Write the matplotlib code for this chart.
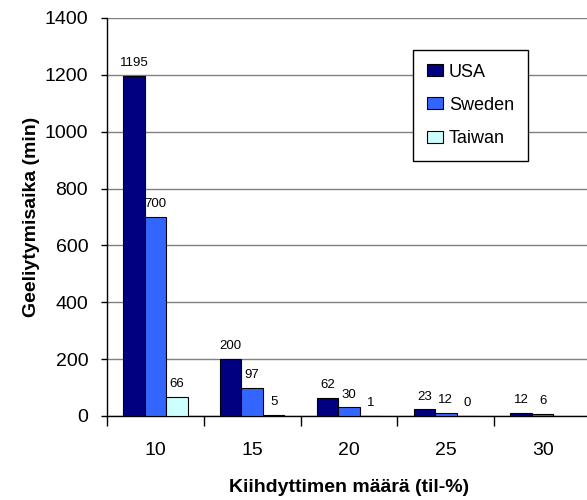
import matplotlib.pyplot as plt
import numpy as np

plt.rcParams['font.family'] = ['Liberation Sans', 'DejaVu Sans']

categories = ['10', '15', '20', '25', '30']
usa = [1195, 200, 62, 23, 12]
sweden = [700, 97, 30, 12, 6]
taiwan = [66, 5, 1, 0, np.nan]

series = [('USA', usa, '#000080'),
          ('Sweden', sweden, '#3366FF'),
          ('Taiwan', taiwan, '#CCFFFF')]

fig = plt.figure(figsize=(5.87, 5.0), dpi=100)
ax = fig.add_axes([107 / 587, 84 / 500, 484 / 587, 398 / 500])

x = np.arange(len(categories))
w = 0.222
for i, (name, vals, col) in enumerate(series):
    pos = x + (i - 1) * w
    ax.bar(pos, vals, width=w, color=col, edgecolor='black',
           linewidth=0.8, label=name, zorder=3)
    for p, v in zip(pos, vals):
        if np.isnan(v):
            continue
        ax.annotate(str(int(v)), (p, v), xytext=(0, 5), textcoords='offset points',
                    ha='center', va='bottom', fontsize=9.5)

ax.set_xlim(-0.5, len(categories) - 0.5)
ax.set_ylim(0, 1400)
ax.set_yticks(range(0, 1401, 200))
ax.yaxis.grid(True, color='#808080', linewidth=1, zorder=0)
ax.set_xticks(x)
ax.set_xticklabels(categories, fontsize=14)
ax.set_xticks(np.arange(-0.5, len(categories)), minor=True)
ax.tick_params(axis='x', which='major', length=0, pad=19)
ax.tick_params(axis='x', which='minor', length=7, width=1, color='black')
ax.tick_params(axis='y', length=4.5, width=1, labelsize=14, pad=9)

for s in ['top', 'right']:
    ax.spines[s].set_visible(False)
for s in ['left', 'bottom']:
    ax.spines[s].set_color('black')
    ax.spines[s].set_linewidth(1)

ax.set_xlabel('Kiihdyttimen määrä (til-%)', fontsize=14, fontweight='bold', labelpad=14)
ax.set_ylabel('Geeliytymisaika (min)', fontsize=14, fontweight='bold', labelpad=3)

leg = ax.legend(loc='upper left', bbox_to_anchor=(413 / 587, 1 - 50 / 500),
                bbox_transform=fig.transFigure, borderaxespad=0, fontsize=13,
                fancybox=False, framealpha=1, edgecolor='black',
                handlelength=0.9, handleheight=0.65, handletextpad=0.35,
                labelspacing=0.9, borderpad=0.75)
leg.get_frame().set_linewidth(1)
leg.set_zorder(5)

fig.savefig('out.png', dpi=100)
